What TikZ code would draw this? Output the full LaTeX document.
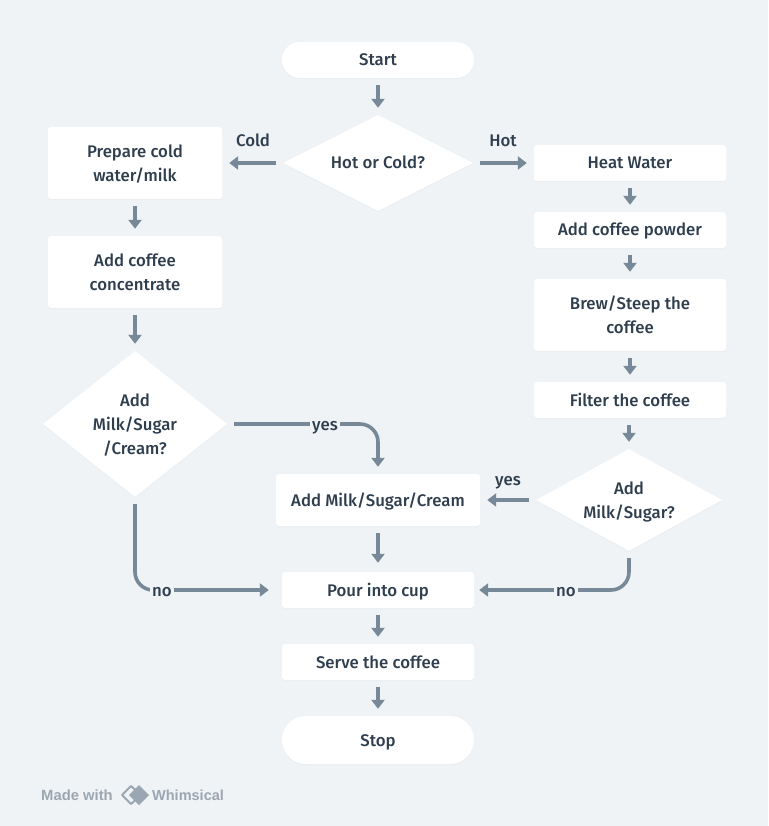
\documentclass[tikz,border=0pt]{standalone}
\usepackage{fontspec}
\setmainfont{Fira Sans}[UprightFont=* Medium]
\newfontfamily\logofont{Liberation Sans}
\usetikzlibrary{shapes.geometric,arrows.meta,shadows}
\definecolor{pagebg}{HTML}{F0F3F6}
\definecolor{flowline}{HTML}{778898}
\definecolor{flowtext}{HTML}{2F3E4E}
\definecolor{logogray}{HTML}{9AA6B2}
\newcommand{\toppad}[1]{\rule{0pt}{#1}}
\tikzset{
  softshadow/.style={drop shadow={shadow xshift=0pt,shadow yshift=-1pt,opacity=0.025,fill=black}},
  base/.style={fill=white,text=flowtext,align=center,inner sep=0pt,softshadow,font=\fontsize{16.8}{24}\selectfont},
  oneline/.style={text height=16pt,text depth=4pt},
  stepbox/.style={base,rectangle,rounded corners=3pt,minimum height=36pt},
  pill/.style={base,rectangle,rounded corners=18pt,minimum width=192pt,oneline},
  choice/.style={base,diamond,inner sep=0pt},
  flow/.style={-{Triangle[width=13pt,length=9pt]},line width=3.6pt,draw=flowline,shorten <=7pt,shorten >=7pt},
  tag/.style={text=flowtext,inner sep=2pt,oneline,font=\fontsize{16.8}{20}\selectfont},
  cuttag/.style={tag,fill=pagebg},
}
\begin{document}
\begin{tikzpicture}[x=1pt,y=-1pt]
  \fill[pagebg] (0,0) rectangle (768,826);
  \node[pill,minimum height=36pt] (start) at (378,60) {Start};
  \node[choice,aspect=1.98,minimum width=190pt,minimum height=96pt,oneline] (hotcold) at (378,163) {Hot or Cold?};

  \node[stepbox,minimum width=174pt,minimum height=72pt] (prepare) at (135,163) {\toppad{15pt}Prepare cold\\water/milk};
  \node[stepbox,minimum width=174pt,minimum height=72pt] (concentrate) at (135,272) {Add coffee\\concentrate};
  \node[choice,aspect=1.26,minimum width=184pt,minimum height=146pt] (leftadd) at (135,424) {\toppad{15pt}Add\\Milk/Sugar\\/Cream?};

  \node[stepbox,minimum width=192pt,oneline] (heat) at (630,163) {Heat Water};
  \node[stepbox,minimum width=192pt,oneline] (powder) at (630,230) {Add coffee powder};
  \node[stepbox,minimum width=192pt,minimum height=72pt] (brew) at (630,315) {Brew/Steep the\\coffee};
  \node[stepbox,minimum width=192pt,oneline] (filter) at (630,400) {Filter the coffee};
  \node[choice,aspect=1.82,minimum width=186pt,minimum height=102pt] (rightadd) at (629,500) {\toppad{17pt}Add\\Milk/Sugar?};

  \node[stepbox,minimum width=204pt,minimum height=52pt,oneline] (addmilk) at (378,500) {Add Milk/Sugar/Cream};
  \node[stepbox,minimum width=192pt,oneline] (pour) at (378,590) {Pour into cup};
  \node[stepbox,minimum width=192pt,oneline] (serve) at (378,662) {Serve the coffee};
  \node[pill,minimum height=48pt,rounded corners=24pt] (stop) at (378,740) {Stop};

  \draw[flow] (start) -- (hotcold);
  \draw[flow] (hotcold) -- (prepare);
  \draw[flow] (hotcold) -- (heat);
  \draw[flow] (prepare) -- (concentrate);
  \draw[flow] (concentrate) -- (leftadd);
  \draw[flow] (heat) -- (powder);
  \draw[flow] (powder) -- (brew);
  \draw[flow] (brew) -- (filter);
  \draw[flow] (filter.south -| rightadd.north) -- (rightadd.north);
  \draw[flow] (rightadd) -- (addmilk);
  \draw[flow,shorten >=9pt] (addmilk) -- (pour);
  \draw[flow] (pour) -- (serve);
  \draw[flow] (serve) -- (stop);
  \draw[flow,rounded corners=18pt] (leftadd.east) -| (addmilk.north);
  \draw[flow,rounded corners=18pt,shorten >=13pt] (leftadd.south) |- (pour.west);
  \draw[flow,rounded corners=18pt,shorten >=5pt] (rightadd.south) |- (pour.east);

  \node[tag] (coldtag) at (253,141) {Cold};
  \node[tag] (hottag) at (503,141) {Hot};
  \node[tag] (rightyes) at (508,479) {yes};
  \node[cuttag] (leftyes) at (325,424) {yes};
  \node[cuttag] (leftno) at (162,590) {no};
  \node[cuttag] (rightno) at (566,590) {no};

  \node[anchor=west,inner sep=0pt,text=logogray,font=\logofont\bfseries\fontsize{14.8}{16}\selectfont] (madewith) at (41,795) {Made with};
  \node[anchor=west,inner sep=0pt,text=logogray,font=\logofont\bfseries\fontsize{14.5}{16}\selectfont] (whimsical) at (152,795) {Whimsical};
  \draw[logogray,line width=2pt,line join=round] (131,786) -- (122,795) -- (131,804) -- (136,799.5) -- (131,795) -- (136,790.5) -- cycle;
  \fill[logogray] (139,785) -- (149,795) -- (139,805) -- (129,795) -- cycle;
\end{tikzpicture}
\end{document}
